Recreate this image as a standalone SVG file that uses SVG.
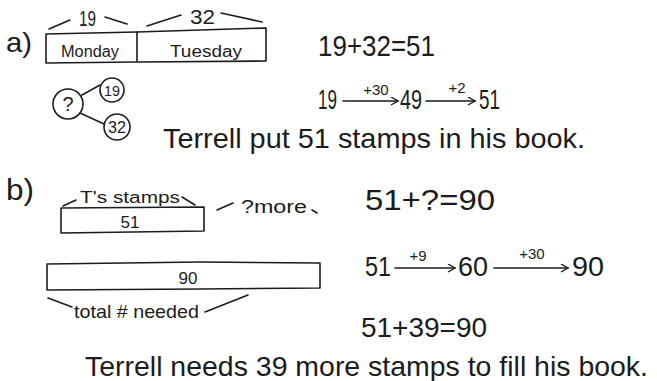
<svg xmlns="http://www.w3.org/2000/svg" width="657" height="381" viewBox="0 0 657 381">
<style>
text{font-family:"Liberation Sans","DejaVu Sans",sans-serif;fill:#1c1c1c}
.big{font-size:28px}
.mid{font-size:18px}
.sm{font-size:15px}
.c{text-anchor:middle}
.ln{fill:none;stroke:#1c1c1c;stroke-width:1.6;stroke-linecap:round;stroke-linejoin:round}
</style>
<defs>
<marker id="arr" markerWidth="10" markerHeight="10" refX="8" refY="4" orient="auto" markerUnits="userSpaceOnUse">
<path d="M1,0 L8,4 L1,8" fill="none" stroke="#1c1c1c" stroke-width="1.4"/>
</marker>
</defs>
<rect width="657" height="381" fill="#ffffff"/>

<g id="label-a"><text class="big" x="6" y="52" textLength="26" lengthAdjust="spacingAndGlyphs">a)</text></g>

<g id="bar-a">
<path class="ln" d="M46,34 L137,32 L266,28 L266,61 L137,62 L46,63 Z"/>
<path class="ln" d="M137,32 L137,61"/>
<text x="61" y="57" textLength="58" lengthAdjust="spacingAndGlyphs" style="font-size:16px">Monday</text>
<text x="170" y="57" textLength="72" lengthAdjust="spacingAndGlyphs" style="font-size:16px">Tuesday</text>
</g>

<g id="brace-19">
<text x="79" y="26" style="font-size:22px" textLength="17" lengthAdjust="spacingAndGlyphs">19</text>
</g>
<g id="brace-32">
<text x="190" y="24" style="font-size:21px" textLength="25" lengthAdjust="spacingAndGlyphs">32</text>
</g>

<g id="bond-whole"><circle class="ln" cx="68" cy="104" r="15"/><text class="c" x="68" y="111" style="font-size:20px">?</text></g>
<g id="bond-19"><circle class="ln" cx="112" cy="90" r="12"/><text class="c" x="112" y="96" style="font-size:15px" textLength="16" lengthAdjust="spacingAndGlyphs">19</text></g>
<g id="bond-32"><circle class="ln" cx="117" cy="127" r="13"/><text class="c" x="117" y="133" style="font-size:16px" textLength="18" lengthAdjust="spacingAndGlyphs">32</text></g>

<g id="eq-a1"><text class="big" x="318" y="56" textLength="117" lengthAdjust="spacingAndGlyphs" style="font-size:30px">19+32=51</text></g>

<g id="jump-a">
<text class="big" x="318" y="109" textLength="19" lengthAdjust="spacingAndGlyphs">19</text>
<text class="sm c" x="376" y="95">+30</text>
<text class="big" x="400" y="109" textLength="22" lengthAdjust="spacingAndGlyphs">49</text>
<text class="sm c" x="457" y="93">+2</text>
<text class="big" x="479" y="109" textLength="21" lengthAdjust="spacingAndGlyphs">51</text>
</g>

<g id="answer-a"><text class="big" x="163" y="148" textLength="422" lengthAdjust="spacingAndGlyphs">Terrell put 51 stamps in his book.</text></g>

<g id="label-b"><text class="big" x="6" y="200" textLength="28" lengthAdjust="spacingAndGlyphs" style="font-size:30px">b)</text></g>

<g id="bar-51">
<path class="ln" d="M61,208 L204,207 L204,231 L61,233 Z"/>
<text class="c" x="130" y="228" style="font-size:17px">51</text>
<text x="80" y="203" style="font-size:16px" textLength="100" lengthAdjust="spacingAndGlyphs">T's stamps</text>
</g>
<g id="more"><text x="241" y="213" style="font-size:18px" textLength="66" lengthAdjust="spacingAndGlyphs">?more</text></g>

<g id="bar-90">
<path class="ln" d="M47,264 L200,262 L320,263 L320,288 L200,289 L47,290 Z"/>
<text class="c" x="188" y="284" style="font-size:17px">90</text>
<text x="74" y="318" style="font-size:19px" textLength="125" lengthAdjust="spacingAndGlyphs">total # needed</text>
</g>

<g id="eq-b1"><text class="big" x="365" y="210" textLength="130" lengthAdjust="spacingAndGlyphs" style="font-size:30px">51+?=90</text></g>

<g id="jump-b">
<text class="big" x="365" y="276" textLength="26" lengthAdjust="spacingAndGlyphs">51</text>
<text class="sm c" x="418" y="261">+9</text>
<text class="big" x="458" y="276" textLength="30" lengthAdjust="spacingAndGlyphs">60</text>
<text class="sm c" x="532" y="259">+30</text>
<text class="big" x="572" y="276" textLength="32" lengthAdjust="spacingAndGlyphs">90</text>
</g>

<g id="eq-b2"><text class="big" x="361" y="337" textLength="126" lengthAdjust="spacingAndGlyphs">51+39=90</text></g>

<g id="answer-b"><text class="big" x="85" y="376" textLength="563" lengthAdjust="spacingAndGlyphs">Terrell needs 39 more stamps to fill his book.</text></g>

<g id="connectors">
<path class="ln" d="M49,29 L70,20"/>
<path class="ln" d="M105,17 L127,24"/>
<path class="ln" d="M147,26 L181,15"/>
<path class="ln" d="M221,13 L262,22"/>
<path class="ln" d="M82,95 L100,85"/>
<path class="ln" d="M80,113 L104,124"/>
<path class="ln" d="M343,101 L398,101" marker-end="url(#arr)"/>
<path class="ln" d="M426,101 L475,101" marker-end="url(#arr)"/>
<path class="ln" d="M63,206 L76,200"/>
<path class="ln" d="M182,197 L195,205"/>
<path class="ln" d="M217,210 L233,203"/>
<path class="ln" d="M312,210 L317,213"/>
<path class="ln" d="M395,268 L455,268" marker-end="url(#arr)"/>
<path class="ln" d="M494,268 L568,268" marker-end="url(#arr)"/>
<path class="ln" d="M48,298 L72,307"/>
<path class="ln" d="M205,312 L248,295"/>
</g>
</svg>
